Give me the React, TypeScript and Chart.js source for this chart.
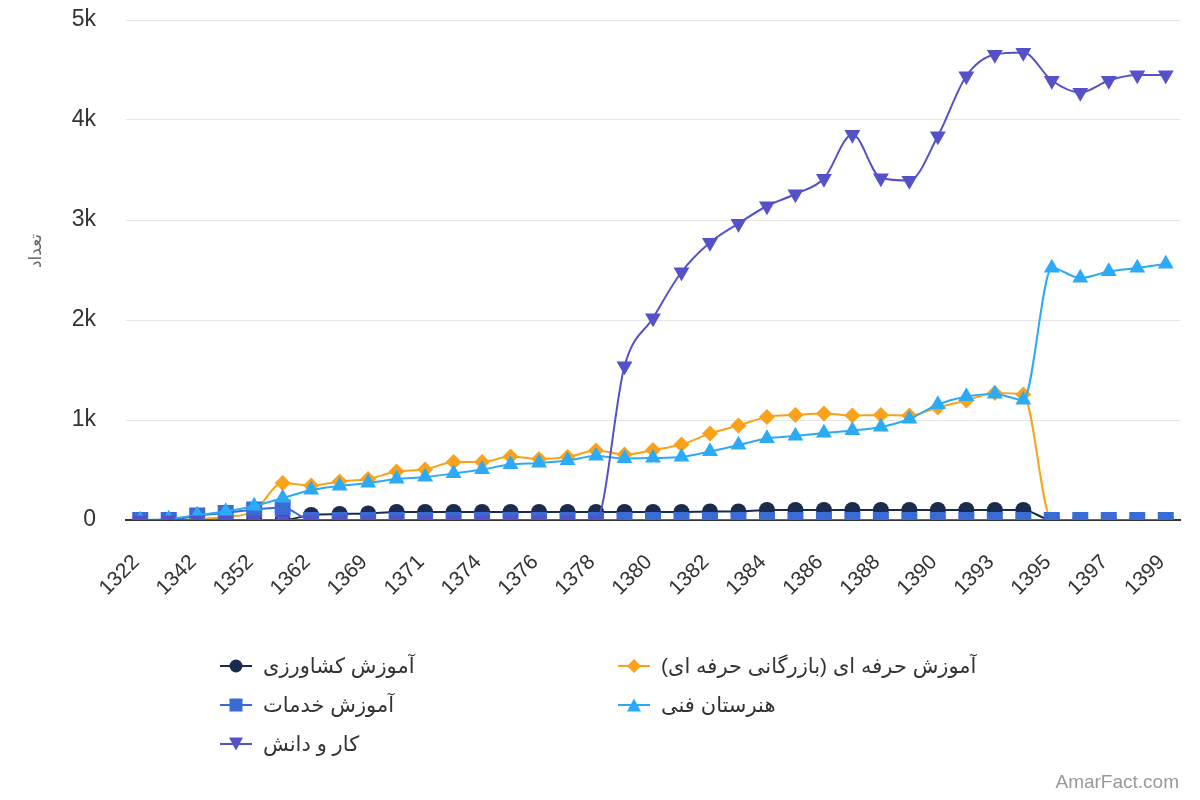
import React, { useEffect, useRef } from 'react';
import { Chart, registerables } from 'chart.js';

Chart.register(...registerables);

const categories = [
  '1322', '1332', '1342', '1347', '1352', '1357', '1362', '1367', '1369', '1370',
  '1371', '1373', '1374', '1375', '1376', '1377', '1378', '1379', '1380', '1381',
  '1382', '1383', '1384', '1385', '1386', '1387', '1388', '1389', '1390', '1392',
  '1393', '1394', '1395', '1396', '1397', '1398', '1399',
];

const agriculture = [
  0, 0, 0, 0, 0, 0, 50, 60, 65, 80,
  80, 80, 80, 80, 80, 80, 80, 80, 80, 80,
  85, 85, 100, 100, 100, 100, 100, 100, 100, 100,
  100, 100, 0, 0, 0, 0, 0,
];

const vocational = [
  0, 0, 10, 30, 90, 370, 345, 385, 410, 485,
  505, 580, 580, 635, 610, 630, 695, 655, 700, 755,
  865, 945, 1030, 1050, 1065, 1045, 1050, 1045, 1125, 1195,
  1270, 1255, 0, 0, 0, 0, 0,
];

const services = [
  0, 0, 45, 70, 105, 125, 0, 0, 0, 0,
  0, 0, 0, 0, 0, 0, 0, 0, 0, 0,
  0, 0, 0, 0, 0, 0, 0, 0, 0, 0,
  0, 0, 0, 0, 0, 0, 0,
];

const technical = [
  0, 10, 50, 85, 140, 220, 300, 340, 370, 410,
  430, 465, 505, 555, 570, 595, 640, 615, 620, 630,
  685, 750, 815, 840, 870, 895, 930, 1010, 1155, 1235,
  1260, 1200, 2520, 2420, 2485, 2520, 2560,
];

const workKnowledge = [
  0, 0, 0, 0, 0, 0, 0, 0, 0, 0,
  0, 0, 0, 0, 0, 0, 0, 1540, 2020, 2480,
  2775, 2965, 3140, 3260, 3415, 3855, 3420, 3395, 3840, 4440,
  4655, 4675, 4395, 4275, 4395, 4450, 4450,
];

const yTicks = [0, 1000, 2000, 3000, 4000, 5000];
const yTitle = 'تعداد';

type Shape = 'circle' | 'rect' | 'rectRot' | 'triangle' | 'triangleDown';

const series: { label: string; data: number[]; color: string; shape: Shape }[] = [
  { label: 'آموزش کشاورزی', data: agriculture, color: '#1a2b4d', shape: 'circle' },
  { label: 'آموزش حرفه ای (بازرگانی حرفه ای)', data: vocational, color: '#f9a21b', shape: 'rectRot' },
  { label: 'آموزش خدمات', data: services, color: '#3a6bd4', shape: 'rect' },
  { label: 'هنرستان فنی', data: technical, color: '#2caaf6', shape: 'triangle' },
  { label: 'کار و دانش', data: workKnowledge, color: '#5551c8', shape: 'triangleDown' },
];

const FONT = "'Liberation Sans', Arial, 'DejaVu Sans', sans-serif";

function pointOpts(shape: Shape) {
  switch (shape) {
    case 'circle':
      return { pointStyle: 'circle', pointRadius: 8, pointRotation: 0 };
    case 'rect':
      return { pointStyle: 'rect', pointRadius: 11.3, pointRotation: 0 };
    case 'rectRot':
      return { pointStyle: 'rectRot', pointRadius: 8, pointRotation: 0 };
    case 'triangle':
      return { pointStyle: 'triangle', pointRadius: 9.2, pointRotation: 0 };
    default:
      return { pointStyle: 'triangle', pointRadius: 9.2, pointRotation: 180 };
  }
}

function Marker({ color, shape }: { color: string; shape: Shape }) {
  let mark: React.ReactNode = null;
  if (shape === 'circle') mark = <circle cx={16} cy={10} r={6.5} fill={color} />;
  else if (shape === 'rect') mark = <rect x={9.5} y={3.5} width={13} height={13} fill={color} />;
  else if (shape === 'rectRot') mark = <polygon points="16,3 23,10 16,17 9,10" fill={color} />;
  else if (shape === 'triangle') mark = <polygon points="16,3.5 23,16.5 9,16.5" fill={color} />;
  else mark = <polygon points="9,3.5 23,3.5 16,16.5" fill={color} />;
  return (
    <svg width={32} height={20} style={{ display: 'block', flex: '0 0 auto' }}>
      <line x1={0} x2={32} y1={10} y2={10} stroke={color} strokeWidth={2} />
      {mark}
    </svg>
  );
}

const legendPos = [
  { left: 220, cy: 666 },
  { left: 618, cy: 666 },
  { left: 220, cy: 705 },
  { left: 618, cy: 705 },
  { left: 220, cy: 744 },
];

const yTitlePlugin = {
  id: 'yTitlePlugin',
  afterDraw(chart: any) {
    const ctx = chart.ctx;
    ctx.save();
    ctx.translate(36, 251);
    ctx.rotate(-Math.PI / 2);
    ctx.textAlign = 'center';
    ctx.textBaseline = 'middle';
    ctx.fillStyle = '#666666';
    ctx.font = `17px ${FONT}`;
    ctx.fillText(yTitle, 0, 0);
    ctx.restore();
  },
};

export default function App() {
  const canvasRef = useRef<HTMLCanvasElement>(null);

  useEffect(() => {
    const prevMargin = document.body.style.margin;
    document.body.style.margin = '0';
    const canvas = canvasRef.current;
    if (!canvas) return;
    Chart.defaults.font.family = FONT;
    const chart = new Chart(canvas, {
      type: 'line',
      data: {
        labels: categories,
        datasets: series.map((s, i) => ({
          label: s.label,
          data: s.data,
          borderColor: s.color,
          backgroundColor: s.color,
          borderWidth: 2,
          pointBorderWidth: 0,
          ...pointOpts(s.shape),
          cubicInterpolationMode: 'monotone',
          fill: false,
          order: series.length - i,
        })) as any,
      },
      plugins: [yTitlePlugin],
      options: {
        responsive: false,
        animation: false,
        devicePixelRatio: 1,
        layout: { padding: { top: 20, right: 20, bottom: 180, left: 0 } },
        plugins: {
          legend: { display: false },
          tooltip: { enabled: false },
        },
        scales: {
          x: {
            offset: true,
            grid: { display: false, drawTicks: false },
            border: { display: true, color: '#333333', width: 2 },
            ticks: {
              autoSkip: false,
              minRotation: 45,
              maxRotation: 45,
              padding: 30,
              labelOffset: -4,
              color: '#333333',
              font: { size: 21, family: FONT },
              callback: (_v: any, i: number) => (i % 2 === 0 ? categories[i] : ''),
            },
            afterFit: (s: any) => {
              s.height = 100;
              s.paddingLeft = 0;
              s.paddingRight = 0;
            },
          },
          y: {
            min: yTicks[0],
            max: yTicks[yTicks.length - 1],
            afterBuildTicks: (s: any) => {
              s.ticks = yTicks.map((v) => ({ value: v }));
            },
            ticks: {
              padding: 30,
              color: '#333333',
              font: { size: 23, family: FONT },
              callback: (v: any) => (Number(v) === 0 ? '0' : Number(v) / 1000 + 'k'),
            },
            grid: { color: '#e6e6e6', drawTicks: false, lineWidth: 1 },
            border: { display: false },
            title: { display: false },
            afterFit: (s: any) => {
              s.width = 126;
              s.paddingTop = 0;
              s.paddingBottom = 0;
            },
          },
        },
      } as any,
    });
    return () => {
      chart.destroy();
      document.body.style.margin = prevMargin;
    };
  }, []);

  return (
    <div style={{ position: 'absolute', left: 0, top: 0, width: 1200, height: 800, background: '#ffffff', fontFamily: FONT }}>
      <canvas ref={canvasRef} width={1200} height={800} style={{ position: 'absolute', left: 0, top: 0, width: 1200, height: 800 }} />
      {series.map((s, i) => (
        <div
          key={s.label}
          style={{
            position: 'absolute',
            left: legendPos[i].left,
            top: legendPos[i].cy - 14,
            height: 28,
            display: 'flex',
            alignItems: 'center',
            whiteSpace: 'nowrap',
          }}
        >
          <Marker color={s.color} shape={s.shape} />
          <span dir="rtl" style={{ marginLeft: 11, fontSize: 21, color: '#333333', lineHeight: '28px' }}>
            {s.label}
          </span>
        </div>
      ))}
      <div style={{ position: 'absolute', right: 21, top: 770, fontSize: 19, color: '#999999', lineHeight: '24px' }}>
        AmarFact.com
      </div>
    </div>
  );
}
